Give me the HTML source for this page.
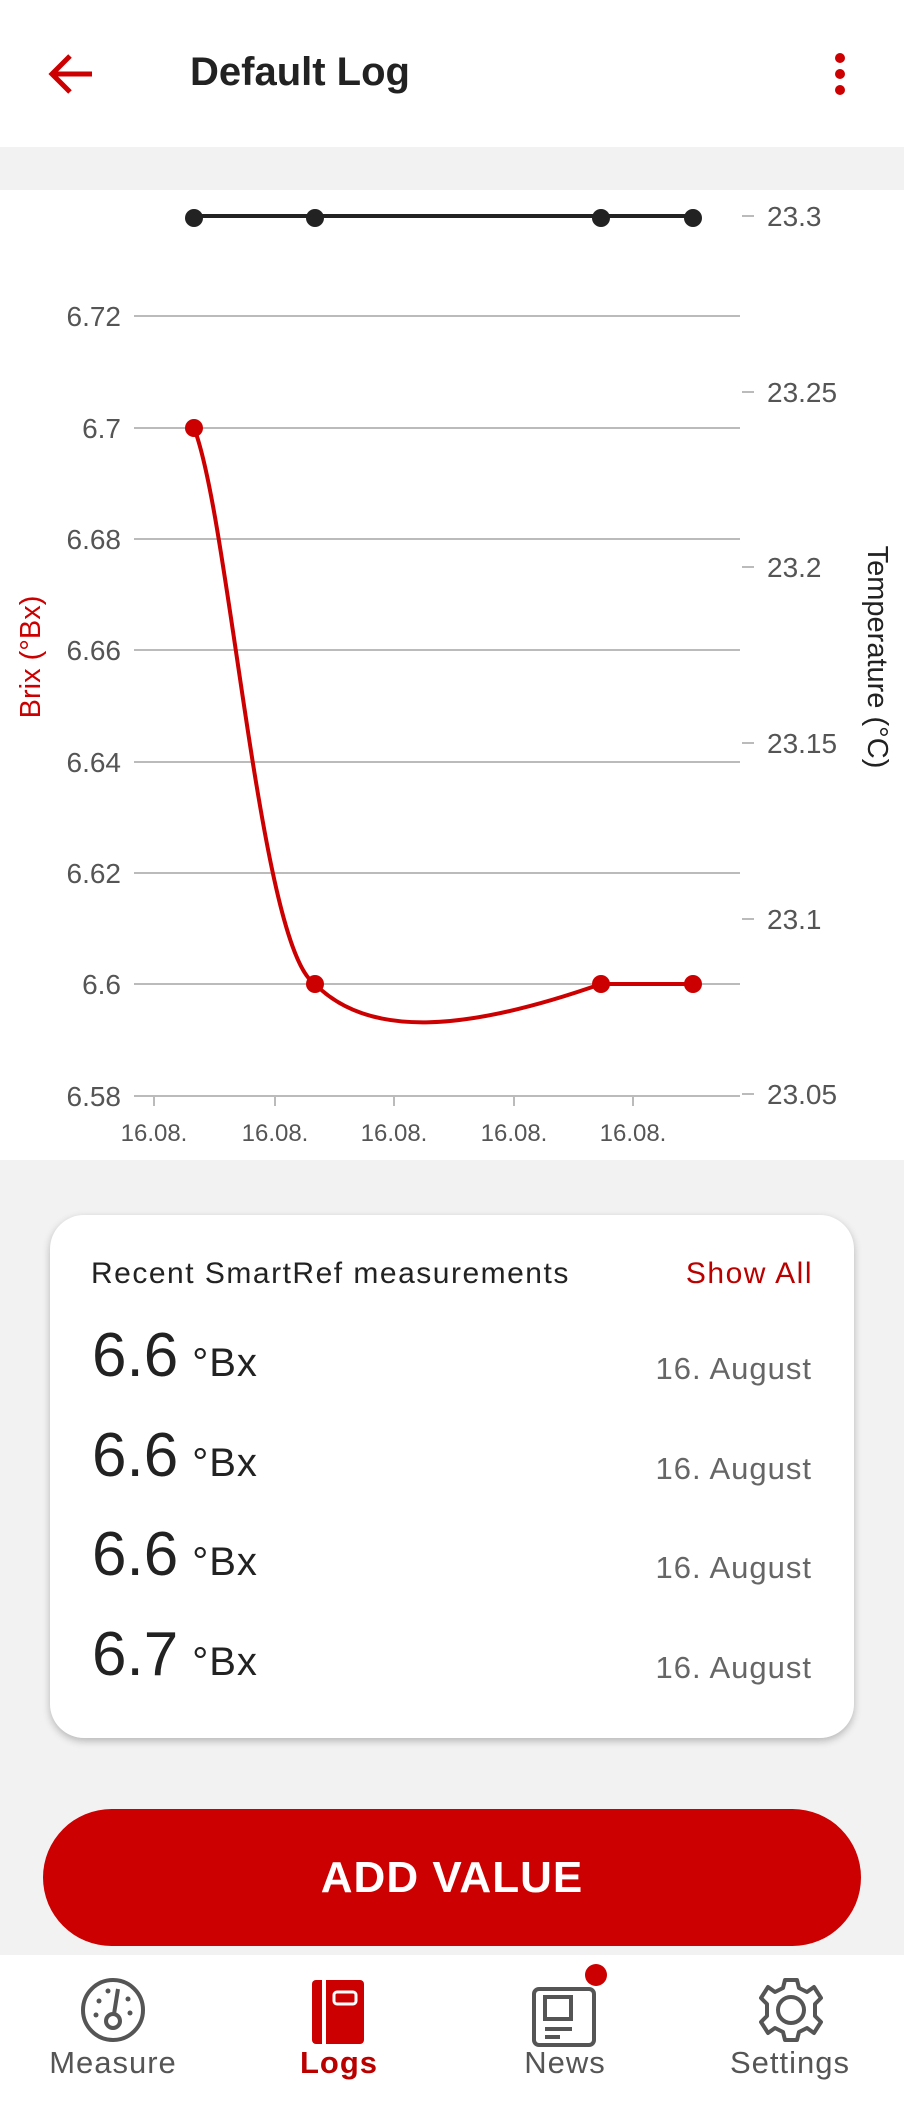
<!DOCTYPE html>
<html><head><meta charset="utf-8"><style>
*{margin:0;padding:0;box-sizing:border-box}
body{width:904px;height:2104px;background:#f2f2f2;font-family:"Liberation Sans",sans-serif;position:relative;overflow:hidden}
.cond{font-family:"Liberation Sans Narrow","Liberation Sans",sans-serif}
#hdr{position:absolute;left:0;top:0;width:904px;height:147px;background:#fff}
#chart{position:absolute;left:0;top:190px;width:904px;height:970px;background:#fff}
#card{position:absolute;left:50px;top:1215px;width:804px;height:523px;background:#fff;border-radius:34px;box-shadow:0 3px 8px rgba(0,0,0,.25)}
.row{position:absolute;left:42px;right:42px;height:80px}
.val{position:absolute;left:0;bottom:10px;font-size:62px;color:#222}
.val span{font-size:40px;margin-left:14px;letter-spacing:1px}
.date{position:absolute;right:0;bottom:14px;font-size:31px;color:#666;letter-spacing:1px}
#btn{position:absolute;left:43px;top:1809px;width:818px;height:137px;background:#cc0000;border-radius:69px;color:#fff;font-size:44px;font-weight:bold;text-align:center;line-height:137px;letter-spacing:1px}
#nav{position:absolute;left:0;top:1955px;width:904px;height:149px;background:#fff}
.lab{position:absolute;top:90px;width:200px;margin-left:-100px;text-align:center;font-size:31px;color:#555;letter-spacing:1px}
</style></head><body>
<div id="hdr">
<svg style="position:absolute;left:44px;top:50px" width="56" height="48"><path d="M48 24H8M26 6L8 24L26 42" stroke="#c00" stroke-width="5" fill="none"/></svg>
<div class="cond" style="position:absolute;left:190px;top:50px;font-size:40px;font-weight:bold;color:#222">Default Log</div>
<svg style="position:absolute;left:830px;top:52px" width="20" height="44"><circle cx="10" cy="6" r="5" fill="#c00"/><circle cx="10" cy="22" r="5" fill="#c00"/><circle cx="10" cy="38" r="5" fill="#c00"/></svg>
</div>
<svg id="chart" width="904" height="970" viewBox="0 190 904 970" style="position:absolute;left:0;top:190px">
<g stroke="#bbb" stroke-width="2">
<line x1="134" y1="316" x2="740" y2="316"/><line x1="134" y1="428" x2="740" y2="428"/><line x1="134" y1="539" x2="740" y2="539"/><line x1="134" y1="650" x2="740" y2="650"/><line x1="134" y1="762" x2="740" y2="762"/><line x1="134" y1="873" x2="740" y2="873"/><line x1="134" y1="984" x2="740" y2="984"/><line x1="134" y1="1096" x2="740" y2="1096"/>
<line x1="154" y1="1096" x2="154" y2="1106"/><line x1="275" y1="1096" x2="275" y2="1106"/><line x1="394" y1="1096" x2="394" y2="1106"/><line x1="514" y1="1096" x2="514" y2="1106"/><line x1="633" y1="1096" x2="633" y2="1106"/>
<line x1="742" y1="216" x2="754" y2="216"/><line x1="742" y1="392" x2="754" y2="392"/><line x1="742" y1="567" x2="754" y2="567"/><line x1="742" y1="743" x2="754" y2="743"/><line x1="742" y1="919" x2="754" y2="919"/><line x1="742" y1="1094" x2="754" y2="1094"/>
</g>
<g font-size="28" fill="#555" text-anchor="end" font-family="Liberation Sans,sans-serif">
<text x="121" y="326">6.72</text><text x="121" y="438">6.7</text><text x="121" y="549">6.68</text><text x="121" y="660">6.66</text><text x="121" y="772">6.64</text><text x="121" y="883">6.62</text><text x="121" y="994">6.6</text><text x="121" y="1106">6.58</text>
</g>
<g font-size="28" fill="#555" font-family="Liberation Sans,sans-serif">
<text x="767" y="226">23.3</text><text x="767" y="402">23.25</text><text x="767" y="577">23.2</text><text x="767" y="753">23.15</text><text x="767" y="929">23.1</text><text x="767" y="1104">23.05</text>
</g>
<g font-size="24" fill="#555" text-anchor="middle" font-family="Liberation Sans,sans-serif">
<text x="154" y="1141">16.08.</text><text x="275" y="1141">16.08.</text><text x="394" y="1141">16.08.</text><text x="514" y="1141">16.08.</text><text x="633" y="1141">16.08.</text>
</g>
<text transform="translate(40,657) rotate(-90)" font-size="29" fill="#c00" text-anchor="middle" font-family="Liberation Sans,sans-serif">Brix (°Bx)</text>
<text transform="translate(868,657) rotate(90)" font-size="29" fill="#222" text-anchor="middle" font-family="Liberation Sans,sans-serif">Temperature (°C)</text>
<line x1="194" y1="216" x2="693" y2="216" stroke="#222" stroke-width="4"/>
<g fill="#222"><circle cx="194" cy="218" r="9"/><circle cx="315" cy="218" r="9"/><circle cx="601" cy="218" r="9"/><circle cx="693" cy="218" r="9"/></g>
<path d="M194,428 C230,520 260,950 315,984 C370,1040 470,1030 601,984 L693,984" stroke="#c00" stroke-width="4" fill="none"/>
<g fill="#c00"><circle cx="194" cy="428" r="9"/><circle cx="315" cy="984" r="9"/><circle cx="601" cy="984" r="9"/><circle cx="693" cy="984" r="9"/></g>
</svg>
<div id="card">
<div style="position:absolute;left:41px;top:42px;font-size:30px;color:#222;letter-spacing:1.5px">Recent SmartRef measurements</div>
<div style="position:absolute;right:41px;top:42px;font-size:30px;color:#b00;letter-spacing:1.5px">Show All</div>
<div class="row" style="top:106px"><div class="val">6.6<span>°Bx</span></div><div class="date">16. August</div></div>
<div class="row" style="top:206px"><div class="val">6.6<span>°Bx</span></div><div class="date">16. August</div></div>
<div class="row" style="top:305px"><div class="val">6.6<span>°Bx</span></div><div class="date">16. August</div></div>
<div class="row" style="top:405px"><div class="val">6.7<span>°Bx</span></div><div class="date">16. August</div></div>
</div>
<div id="btn" class="cond">ADD VALUE</div>
<div id="nav">
<svg style="position:absolute;left:80px;top:22px" width="66" height="66"><circle cx="33" cy="33" r="30" stroke="#555" stroke-width="4" fill="none"/><circle cx="33" cy="44" r="7" stroke="#555" stroke-width="4" fill="none"/><line x1="34" y1="37" x2="38" y2="12" stroke="#555" stroke-width="4"/><g fill="#555"><circle cx="16" cy="38" r="2.5"/><circle cx="19" cy="24" r="2.5"/><circle cx="28" cy="14" r="2.5"/><circle cx="48" cy="22" r="2.5"/><circle cx="50" cy="36" r="2.5"/></g></svg>
<svg style="position:absolute;left:312px;top:25px" width="54" height="66"><rect x="0" y="0" width="52" height="64" rx="4" fill="#c00"/><rect x="10" y="0" width="4" height="64" fill="#fff"/><rect x="22" y="12" width="22" height="12" rx="3" fill="none" stroke="#fff" stroke-width="3"/></svg>
<svg style="position:absolute;left:530px;top:8px" width="80" height="84"><rect x="4" y="26" width="60" height="56" rx="5" fill="none" stroke="#555" stroke-width="4"/><rect x="15" y="34" width="26" height="22" fill="none" stroke="#555" stroke-width="4"/><line x1="15" y1="66" x2="42" y2="66" stroke="#555" stroke-width="4"/><line x1="15" y1="74" x2="30" y2="74" stroke="#555" stroke-width="4"/><circle cx="66" cy="12" r="11" fill="#c00"/></svg>
<svg style="position:absolute;left:756px;top:20px" width="70" height="70"><g transform="translate(35,35)"><circle r="13" fill="none" stroke="#555" stroke-width="4"/><path d="M-6,-30 L6,-30 L8,-22 L16,-18 L23,-23 L30,-12 L24,-6 L24,6 L30,12 L23,23 L16,18 L8,22 L6,30 L-6,30 L-8,22 L-16,18 L-23,23 L-30,12 L-24,6 L-24,-6 L-30,-12 L-23,-23 L-16,-18 L-8,-22 Z" fill="none" stroke="#555" stroke-width="4" stroke-linejoin="round"/></g></svg>
<div class="lab cond" style="left:113px">Measure</div>
<div class="lab cond" style="left:339px;color:#b00;font-weight:bold">Logs</div>
<div class="lab cond" style="left:565px">News</div>
<div class="lab cond" style="left:790px">Settings</div>
</div>
</body></html>
